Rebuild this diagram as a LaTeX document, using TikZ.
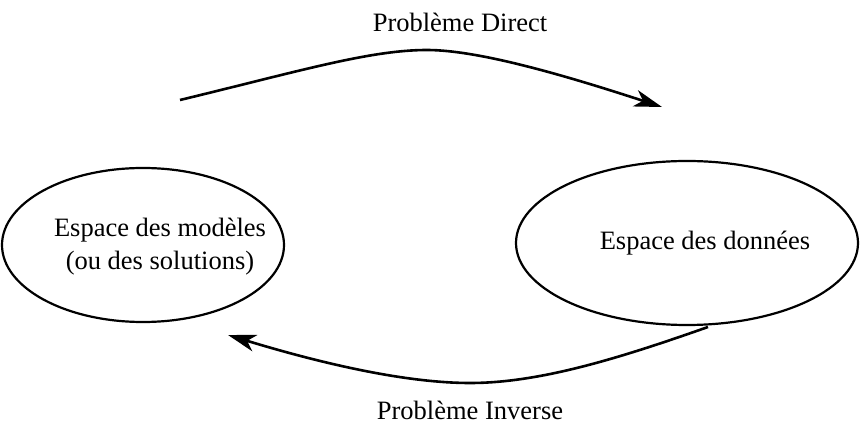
\documentclass[tikz,border=0pt]{standalone}
\usepackage{fontspec}
\setmainfont{Liberation Serif}
\usetikzlibrary{arrows.meta,shapes.geometric}
\begin{document}
\begin{tikzpicture}[x=1pt,y=-1pt,
  space/.style={draw, ellipse, line width=2.2pt, inner sep=0pt},
  lbl/.style={font=\fontsize{26.5}{33}\selectfont, align=center, inner sep=0pt},
  conn/.style={line width=2.6pt, -{Stealth[length=28pt,width=17pt,inset=8pt]}}]
\useasboundingbox (0,0) rectangle (860,430);
\node[space, minimum width=282pt, minimum height=154pt] (models) at (143,245) {};
\node[space, minimum width=342pt, minimum height=164pt] (data) at (687,243) {};
\node[lbl] (tmodels) at (160,247) {Espace des modèles\\(ou des solutions)};
\node[lbl] (tdata) at (705,243) {Espace des données};
\node[lbl] (tdirect) at (460,22) {Problème Direct};
\node[lbl] (tinverse) at (470,410) {Problème Inverse};
\coordinate (d0) at (180,100);
\coordinate (dpk) at (427,50);
\coordinate (d1) at (662,107);
\coordinate (i0) at (708,327);
\coordinate (ipk) at (470,383);
\coordinate (i1) at (228,335);
\draw[conn] (d0) .. controls (300,71) and (370,50) .. (dpk)
  .. controls (480,50) and (570,77) .. (d1);
\draw[conn] (i0) .. controls (620,358) and (540,383) .. (ipk)
  .. controls (400,383) and (310,360) .. (i1);
\end{tikzpicture}
\end{document}
